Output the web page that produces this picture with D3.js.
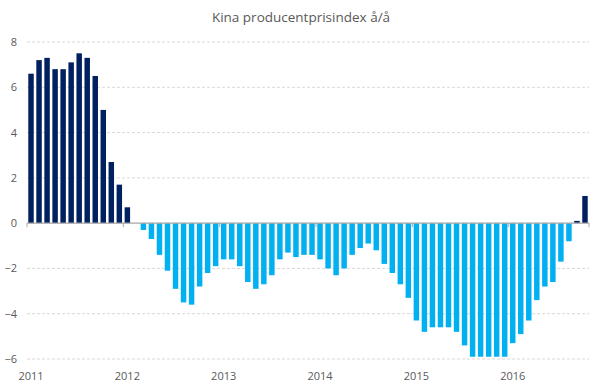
<!DOCTYPE html>
<html>
<head>
<meta charset="utf-8">
<script src="https://cdn.jsdelivr.net/npm/d3@7"></script>
<style>
  body { margin: 0; background: #fff; }
  svg { font-family: "Open Sans", "Noto Sans", sans-serif; }
</style>
</head>
<body>
<script>
const w = 601;
const h = 390;
const title = "Kina producentprisindex å/å";
const years = ["2011", "2012", "2013", "2014", "2015", "2016"];
const yTicks = [-6, -4, -2, 0, 2, 4, 6, 8];
// monthly values, Jan 2011 - Oct 2016
const values2011 = [6.6, 7.2, 7.3, 6.8, 6.8, 7.1, 7.5, 7.3, 6.5, 5.0, 2.7, 1.7];
const values2012 = [0.7, 0.0, -0.3, -0.7, -1.4, -2.1, -2.9, -3.5, -3.6, -2.8, -2.2, -1.9];
const values2013 = [-1.6, -1.6, -1.9, -2.6, -2.9, -2.7, -2.3, -1.6, -1.3, -1.5, -1.4, -1.4];
const values2014 = [-1.6, -2.0, -2.3, -2.0, -1.4, -1.1, -0.9, -1.2, -1.8, -2.2, -2.7, -3.3];
const values2015 = [-4.3, -4.8, -4.6, -4.6, -4.6, -4.8, -5.4, -5.9, -5.9, -5.9, -5.9, -5.9];
const values2016 = [-5.3, -4.9, -4.3, -3.4, -2.8, -2.6, -1.7, -0.8, 0.1, 1.2];

const allValues = [values2011, values2012, values2013, values2014, values2015, values2016];
const dataset = [];
allValues.forEach((arr, yi) => {
  arr.forEach((v, m) => dataset.push({ key: years[yi] + "-" + (m + 1), year: years[yi], month: m, value: v }));
});

const xScale = d3.scaleBand()
  .domain(dataset.map(d => d.key))
  .range([27, 589])
  .paddingInner(0.32)
  .paddingOuter(0.16);

const yScale = d3.scaleLinear()
  .domain([-6, 8])
  .range([359, 42]);

const svg = d3.select("body").append("svg")
  .attr("width", w)
  .attr("height", h);

svg.append("text")
  .attr("x", 301)
  .attr("y", 22)
  .attr("text-anchor", "middle")
  .attr("fill", "#595959")
  .style("font-size", "13.5px")
  .text(title);

// gridlines
svg.selectAll(".grid")
  .data(yTicks.filter(t => t !== 0))
  .enter()
  .append("line")
  .attr("x1", 27)
  .attr("x2", 589)
  .attr("y1", d => yScale(d))
  .attr("y2", d => yScale(d))
  .attr("stroke", "#d9d9d9")
  .attr("stroke-dasharray", "3,2");

const yAxis = d3.axisLeft(yScale).tickValues(yTicks).tickSize(0).tickPadding(10);
const gy = svg.append("g").attr("transform", "translate(27,0)").call(yAxis);
gy.select(".domain").remove();
gy.selectAll("text").attr("fill", "#595959").style("font-size", "11px").style("font-family", "'Open Sans', sans-serif");

svg.selectAll(".bar")
  .data(dataset)
  .enter()
  .append("rect")
  .attr("x", d => xScale(d.key))
  .attr("width", xScale.bandwidth())
  .attr("y", d => yScale(Math.max(0, d.value)))
  .attr("height", d => Math.abs(yScale(d.value) - yScale(0)))
  .attr("fill", d => d.value >= 0 ? "#002060" : "#00b0f0");

// zero axis
const step = xScale.step();
svg.append("line")
  .attr("x1", 27).attr("x2", 589)
  .attr("y1", yScale(0)).attr("y2", yScale(0))
  .attr("stroke", "#a6a6a6").attr("stroke-width", 1.2);

// year ticks between Dec and Jan
const tickPos = years.map(y => xScale(y + "-1") - step * 0.16);
tickPos.push(589);
svg.selectAll(".ytick")
  .data(tickPos)
  .enter()
  .append("line")
  .attr("x1", d => d).attr("x2", d => d)
  .attr("y1", yScale(0)).attr("y2", yScale(0) + 4)
  .attr("stroke", "#a6a6a6");

svg.selectAll(".yearlabel")
  .data(years)
  .enter()
  .append("text")
  .attr("x", d => xScale(d + "-1") + xScale.bandwidth() / 2)
  .attr("y", 380)
  .attr("text-anchor", "middle")
  .attr("fill", "#595959")
  .style("font-size", "11px")
  .text(d => d);
</script>
</body>
</html>
